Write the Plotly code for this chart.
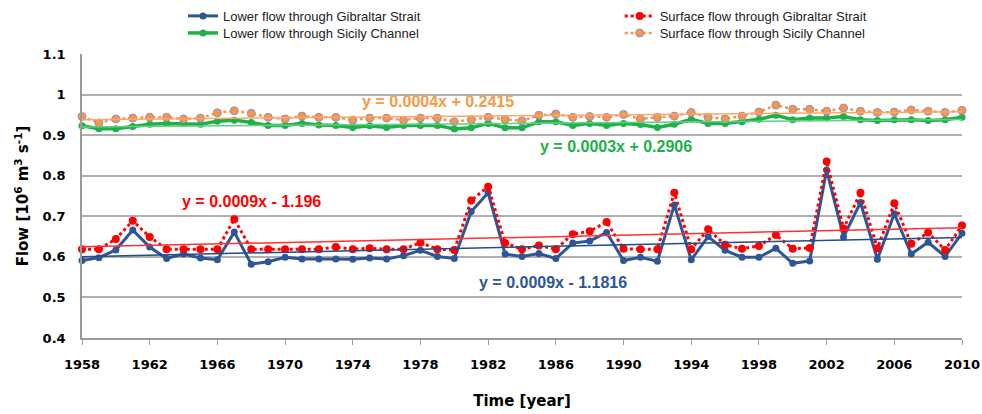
import numpy as np
import plotly.graph_objects as go

years = list(range(1958, 2011))

lower_gibraltar = [
    0.591, 0.598, 0.617, 0.666, 0.624, 0.596, 0.607, 0.597, 0.593, 0.661,
    0.582, 0.588, 0.599, 0.595, 0.595, 0.595, 0.594, 0.597, 0.595, 0.603,
    0.616, 0.601, 0.596, 0.712, 0.758, 0.607, 0.601, 0.608, 0.596, 0.634,
    0.639, 0.660, 0.591, 0.599, 0.589, 0.728, 0.593, 0.650, 0.616, 0.599,
    0.599, 0.621, 0.584, 0.590, 0.814, 0.649, 0.734, 0.594, 0.706, 0.607,
    0.636, 0.601, 0.658,
]
surface_gibraltar = [
    0.619, 0.619, 0.644, 0.689, 0.649, 0.619, 0.619, 0.619, 0.619, 0.693,
    0.619, 0.619, 0.619, 0.619, 0.619, 0.624, 0.619, 0.621, 0.619, 0.619,
    0.635, 0.619, 0.617, 0.739, 0.773, 0.634, 0.619, 0.628, 0.619, 0.656,
    0.663, 0.686, 0.620, 0.619, 0.619, 0.758, 0.619, 0.668, 0.630, 0.620,
    0.627, 0.654, 0.620, 0.622, 0.835, 0.670, 0.758, 0.621, 0.732, 0.632,
    0.660, 0.617, 0.677,
]
lower_sicily = [
    0.923, 0.916, 0.916, 0.921, 0.927, 0.929, 0.929, 0.927, 0.934, 0.937,
    0.931, 0.924, 0.924, 0.929, 0.925, 0.924, 0.919, 0.923, 0.919, 0.924,
    0.924, 0.924, 0.915, 0.918, 0.929, 0.918, 0.918, 0.933, 0.933, 0.924,
    0.929, 0.924, 0.929, 0.926, 0.919, 0.927, 0.939, 0.929, 0.929, 0.933,
    0.939, 0.949, 0.938, 0.942, 0.942, 0.946, 0.938, 0.936, 0.938, 0.938,
    0.936, 0.938, 0.944,
]
surface_sicily = [
    0.946, 0.930, 0.940, 0.942, 0.944, 0.944, 0.940, 0.942, 0.955, 0.960,
    0.954, 0.944, 0.940, 0.947, 0.944, 0.944, 0.937, 0.942, 0.942, 0.937,
    0.942, 0.942, 0.933, 0.938, 0.944, 0.939, 0.935, 0.949, 0.952, 0.944,
    0.946, 0.944, 0.951, 0.940, 0.944, 0.947, 0.956, 0.944, 0.940, 0.947,
    0.957, 0.974, 0.964, 0.964, 0.959, 0.967, 0.959, 0.956, 0.957, 0.962,
    0.959, 0.956, 0.961,
]

y_tick_vals = [0.4, 0.5, 0.6, 0.7, 0.8, 0.9, 1.0, 1.1]
y_tick_text = ["0.4", "0.5", "0.6", "0.7", "0.8", "0.9", "1", "1.1"]
x_tick_vals = list(range(1958, 2011, 4))

eq_surface_sicily = "y = 0.0004x + 0.2415"
eq_lower_sicily = "y = 0.0003x + 0.2906"
eq_surface_gibraltar = "y = 0.0009x - 1.196"
eq_lower_gibraltar = "y = 0.0009x - 1.1816"

BLUE = "#2E5596"
RED = "#FF0000"
GREEN = "#1DB04B"
ORANGE = "#F79646"

fig = go.Figure()

fig.add_trace(go.Scatter(
    x=years, y=lower_gibraltar, mode="lines+markers",
    name="Lower flow through Gibraltar Strait", legend="legend",
    line=dict(color=BLUE, width=3), marker=dict(color=BLUE, size=7),
    cliponaxis=False))
fig.add_trace(go.Scatter(
    x=years, y=lower_sicily, mode="lines+markers",
    name="Lower flow through Sicily Channel", legend="legend2",
    line=dict(color=GREEN, width=3.5), marker=dict(color=GREEN, size=7),
    cliponaxis=False))
fig.add_trace(go.Scatter(
    x=years, y=surface_gibraltar, mode="lines+markers",
    name="Surface flow through Gibraltar Strait", legend="legend3",
    line=dict(color=RED, width=3, dash="dot"), marker=dict(color=RED, size=8),
    cliponaxis=False))
fig.add_trace(go.Scatter(
    x=years, y=surface_sicily, mode="lines+markers",
    name="Surface flow through Sicily Channel", legend="legend4",
    line=dict(color=ORANGE, width=2.5, dash="dot"),
    marker=dict(color=ORANGE, size=8, line=dict(color="#9C8BC4", width=1)),
    cliponaxis=False))

# linear trendlines fitted to the series
trend_specs = [
    (lower_sicily, "#5FD17F"),
    (surface_sicily, "#F9A868"),
    (surface_gibraltar, "#FF3030"),
    (lower_gibraltar, "#1F4E8C"),
]
xs = np.array(years, dtype=float)
for series, col in trend_specs:
    k, b = np.polyfit(xs, np.array(series), 1)
    fig.add_trace(go.Scatter(
        x=[years[0], years[-1]], y=[k * years[0] + b, k * years[-1] + b],
        mode="lines", line=dict(color=col, width=1.5), showlegend=False,
        hoverinfo="skip"))

ann_font = dict(family="Liberation Sans, Arial, sans-serif", size=16)
fig.add_annotation(x=1974.4, y=0.983, text="<b>" + eq_surface_sicily + "</b>",
                   showarrow=False, xanchor="left", font=dict(color="#F59A45", **ann_font))
fig.add_annotation(x=1984.95, y=0.873, text="<b>" + eq_lower_sicily + "</b>",
                   showarrow=False, xanchor="left", font=dict(color="#1DB04B", **ann_font))
fig.add_annotation(x=1963.8, y=0.736, text="<b>" + eq_surface_gibraltar + "</b>",
                   showarrow=False, xanchor="left", font=dict(color=RED, **ann_font))
fig.add_annotation(x=1981.35, y=0.536, text="<b>" + eq_lower_gibraltar + "</b>",
                   showarrow=False, xanchor="left", font=dict(color="#2E5596", **ann_font))

legend_font = dict(family="Liberation Sans, Arial, sans-serif", size=13, color="#222222")


def leg(x, y):
    return dict(x=x, y=y, xanchor="left", yanchor="middle",
                bgcolor="rgba(0,0,0,0)", font=legend_font, itemwidth=30)


axis_font = "DejaVu Sans, Verdana, sans-serif"

fig.update_layout(
    width=982, height=414,
    margin=dict(l=82, r=20, t=54, b=76, autoexpand=False),
    paper_bgcolor="white", plot_bgcolor="white",
    font=dict(family=axis_font, color="#000000"),
    legend=leg(0.1148, 1.134),
    legend2=leg(0.1148, 1.074),
    legend3=leg(0.611, 1.134),
    legend4=leg(0.611, 1.074),
    xaxis=dict(range=[1958, 2010], tickvals=x_tick_vals,
               ticktext=["<b>%d</b>" % v for v in x_tick_vals],
               ticks="outside", ticklen=5, tickcolor="#9a9a9a",
               showline=True, linecolor="#9a9a9a", linewidth=1.5,
               showgrid=False, zeroline=False, automargin=False,
               tickfont=dict(size=13), ticklabelstandoff=9,
               title=dict(text="<b>Time [year]</b>", font=dict(size=15), standoff=24)),
    yaxis=dict(range=[0.4, 1.1], tickvals=y_tick_vals,
               ticktext=["<b>%s</b>" % t for t in y_tick_text],
               showline=True, linecolor="#9a9a9a", linewidth=1.5,
               showgrid=True, gridcolor="#b0b0b0", gridwidth=1.5, zeroline=False,
               automargin=False,
               tickfont=dict(size=13), ticks="", ticklabelstandoff=12,
               title=dict(text="<b>Flow [10<sup>6</sup> m<sup>3</sup> s<sup>-1</sup>]</b>",
                          font=dict(size=15), standoff=10)),
)

fig.write_html("out.html")
